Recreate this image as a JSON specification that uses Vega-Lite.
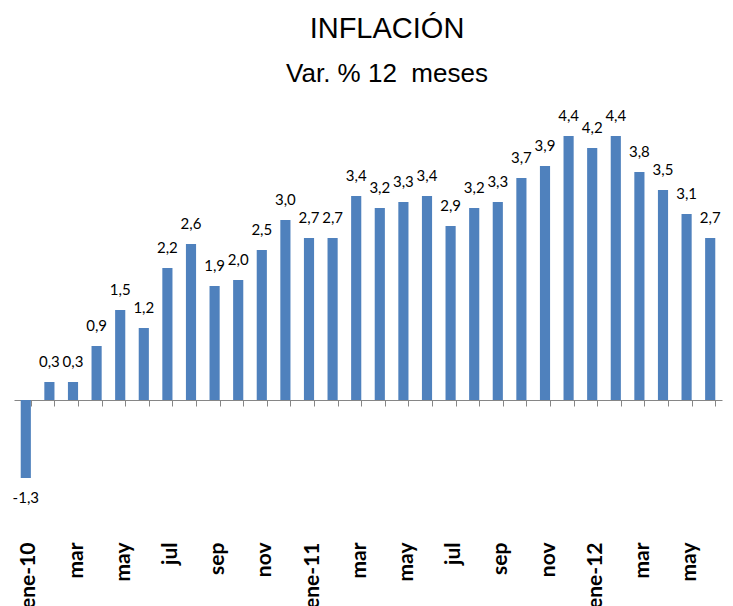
{
  "$schema": "https://vega.github.io/schema/vega-lite/v6.json",
  "width": 708,
  "height": 276,
  "autosize": {"type": "none"},
  "padding": {"left": 14, "top": 124, "right": 11, "bottom": 206},
  "title": {
    "text": "INFLACIÓN",
    "subtitle": "Var. % 12\u00a0 meses",
    "anchor": "middle",
    "dx": 19,
    "font": "Liberation Sans",
    "fontSize": 29,
    "fontWeight": "normal",
    "color": "#000000",
    "subtitleFont": "Liberation Sans",
    "subtitleFontSize": 26,
    "subtitleColor": "#000000",
    "subtitlePadding": 17,
    "offset": 22
  },
  "config": {
    "view": {"stroke": null},
    "locale": {"number": {"decimal": ",", "thousands": ".", "grouping": [3], "currency": ["", " €"], "minus": "-"}}
  },
  "data": {
    "values": [
      {"mes": "ene-10", "valor": -1.3},
      {"mes": "feb-10", "valor": 0.3},
      {"mes": "mar-10", "valor": 0.3},
      {"mes": "abr-10", "valor": 0.9},
      {"mes": "may-10", "valor": 1.5},
      {"mes": "jun-10", "valor": 1.2},
      {"mes": "jul-10", "valor": 2.2},
      {"mes": "ago-10", "valor": 2.6},
      {"mes": "sep-10", "valor": 1.9},
      {"mes": "oct-10", "valor": 2.0},
      {"mes": "nov-10", "valor": 2.5},
      {"mes": "dic-10", "valor": 3.0},
      {"mes": "ene-11", "valor": 2.7},
      {"mes": "feb-11", "valor": 2.7},
      {"mes": "mar-11", "valor": 3.4},
      {"mes": "abr-11", "valor": 3.2},
      {"mes": "may-11", "valor": 3.3},
      {"mes": "jun-11", "valor": 3.4},
      {"mes": "jul-11", "valor": 2.9},
      {"mes": "ago-11", "valor": 3.2},
      {"mes": "sep-11", "valor": 3.3},
      {"mes": "oct-11", "valor": 3.7},
      {"mes": "nov-11", "valor": 3.9},
      {"mes": "dic-11", "valor": 4.4},
      {"mes": "ene-12", "valor": 4.2},
      {"mes": "feb-12", "valor": 4.4},
      {"mes": "mar-12", "valor": 3.8},
      {"mes": "abr-12", "valor": 3.5},
      {"mes": "may-12", "valor": 3.1},
      {"mes": "jun-12", "valor": 2.7}
    ]
  },
  "encoding": {
    "x": {
      "field": "mes",
      "type": "ordinal",
      "sort": null,
      "scale": {"paddingInner": 0.57, "paddingOuter": 0.285},
      "axis": {
        "title": null,
        "labelAngle": -90,
        "labelAlign": "right",
        "labelBaseline": "middle",
        "labelFont": "Lato",
        "labelFontSize": 21,
        "labelFontWeight": "bold",
        "labelColor": "#000000",
        "labelPadding": 136,
        "labelOffset": 3,
        "labelOverlap": false,
        "labelExpr": "test(/^(ene|mar|may|jul|sep|nov)/, datum.value) ? (test(/^ene/, datum.value) ? datum.value : slice(datum.value, 0, 3)) : ''",
        "tickBand": "extent",
        "tickSize": 6,
        "tickColor": "#868686",
        "domainColor": "#868686",
        "grid": false
      }
    },
    "y": {
      "field": "valor",
      "type": "quantitative",
      "scale": {"domain": [0, 4.6], "nice": false, "zero": false},
      "axis": null
    }
  },
  "layer": [
    {"mark": {"type": "bar", "color": "#4F81BD"}},
    {
      "transform": [{"filter": "datum.valor >= 0"}],
      "mark": {"type": "text", "baseline": "alphabetic", "dy": -15, "font": "Lato", "fontSize": 15, "color": "#000000"},
      "encoding": {
        "text": {"field": "valor", "type": "quantitative", "format": ".1f"},
        "fontWeight": {"condition": {"test": "datum.mes == 'jun-12'", "value": "bold"}, "value": "normal"}
      }
    },
    {
      "transform": [{"filter": "datum.valor < 0"}],
      "mark": {"type": "text", "baseline": "top", "dy": 13, "font": "Lato", "fontSize": 15, "color": "#000000"},
      "encoding": {
        "text": {"field": "valor", "type": "quantitative", "format": ".1f"}
      }
    }
  ]
}
